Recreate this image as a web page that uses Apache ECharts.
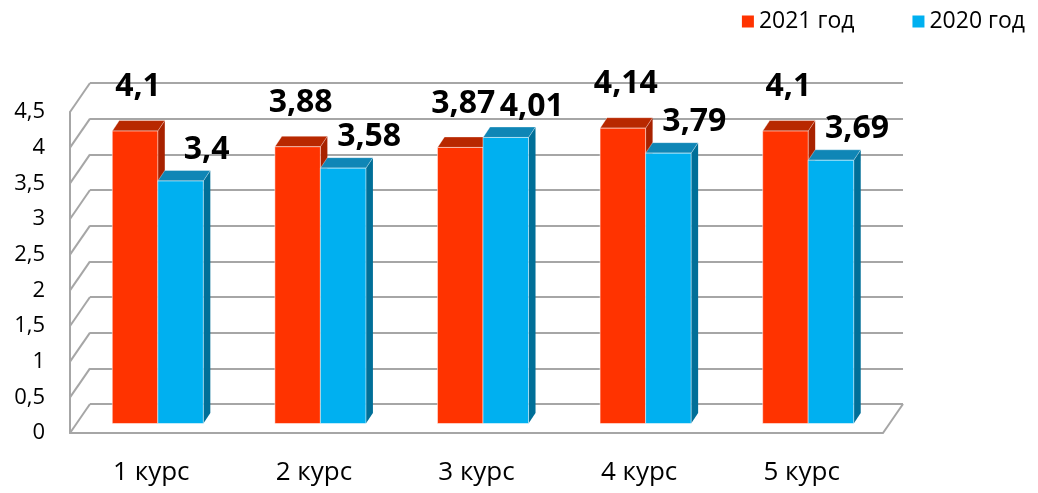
<!DOCTYPE html>
<html>
<head>
<meta charset="utf-8">
<script src="https://cdn.jsdelivr.net/npm/echarts@6/dist/echarts.min.js"></script>
<style>
html, body { margin: 0; padding: 0; background: #fff; }
#chart { width: 1038px; height: 493px; }
</style>
</head>
<body>
<div id="chart"></div>
<script>
var categories = ['1 курс', '2 курс', '3 курс', '4 курс', '5 курс']
var values2021 = [4.1, 3.88, 3.87, 4.14, 4.1]
var values2020 = [3.4, 3.58, 4.01, 3.79, 3.69]
var yTicks = [0, 0.5, 1, 1.5, 2, 2.5, 3, 3.5, 4, 4.5]
var seriesNames = ['2021 год', '2020 год']

// pseudo 3d settings (pixels)
var WALL = [20, 29]     // front plane -> back wall
var PLANE = [6.5, 9.5]  // front plane -> bar front faces
var DEPTH = [7, 10.5]   // bar thickness
var GRID_COLOR = '#a6a6a6'
var FONT = '"Open Sans", "Noto Sans", sans-serif'

function fmt (v) {
    return String(v).replace('.', ',')
}

function toData (arr) {
    return arr.map(function (v, i) { return [i, v] })
}

function barRender (side, faces, labelShift) {
    return function (params, api) {
        var cat = api.value(0)
        var v = api.value(1)
        var base = api.coord([cat, 0])
        var top = api.coord([cat, v])
        var w = api.size([1, 0])[0] * 0.28
        var x0 = base[0] + PLANE[0] + (side === 0 ? -w : 0)
        var x1 = x0 + w
        var yb = base[1] - PLANE[1]
        var yt = top[1] - PLANE[1]
        var dx = DEPTH[0]
        var dy = DEPTH[1]
        return {
            type: 'group',
            children: [
                {
                    type: 'polygon',
                    shape: { points: [[x1, yt], [x1 + dx, yt - dy], [x1 + dx, yb - dy], [x1, yb]] },
                    style: { fill: faces.side }
                },
                {
                    type: 'polygon',
                    shape: { points: [[x0, yt], [x1, yt], [x1 + dx, yt - dy], [x0 + dx, yt - dy]] },
                    style: { fill: faces.top, stroke: 'rgba(255,255,255,0.35)', lineWidth: 1 }
                },
                {
                    type: 'rect',
                    shape: { x: x0, y: yt, width: w, height: yb - yt },
                    style: { fill: faces.front, stroke: 'rgba(255,255,255,0.5)', lineWidth: 1 }
                },
                {
                    type: 'text',
                    x: (x0 + x1) / 2 + labelShift[0],
                    y: yt + labelShift[1],
                    z2: 20,
                    style: {
                        text: fmt(v),
                        font: 'bold 32px ' + FONT,
                        fill: '#000',
                        align: 'center',
                        verticalAlign: 'middle'
                    }
                }
            ]
        }
    }
}

function frameRender (params, api) {
    var v = api.value(1)
    var p = api.coord([0, v])
    var cs = params.coordSys
    var x = cs.x
    var lines = [{
        type: 'line',
        shape: { x1: x, y1: p[1], x2: x + WALL[0], y2: p[1] - WALL[1] },
        style: { stroke: GRID_COLOR, lineWidth: 2 }
    }]
    if (v === 0) {
        lines.push({
            type: 'line',
            shape: { x1: x + cs.width, y1: p[1], x2: x + cs.width + WALL[0], y2: p[1] - WALL[1] },
            style: { stroke: GRID_COLOR, lineWidth: 2 }
        })
    }
    return { type: 'group', children: lines }
}

var myChart = echarts.init(document.getElementById('chart'))
var option = {
    animation: false,
    legend: {
        data: seriesNames,
        right: 8,
        top: 5,
        icon: 'rect',
        itemWidth: 12,
        itemHeight: 12,
        itemGap: 58,
        textStyle: { fontSize: 23, color: '#000', fontFamily: FONT }
    },
    grid: [
        { left: 70, right: 155, top: 112, bottom: 60 },
        { left: 90, right: 135, top: 83, bottom: 89 }
    ],
    xAxis: [
        {
            type: 'category',
            gridIndex: 0,
            data: categories,
            axisTick: { show: false },
            axisLine: { lineStyle: { color: GRID_COLOR, width: 2 } },
            axisLabel: { fontSize: 26, color: '#000', margin: 27, fontFamily: FONT }
        },
        { type: 'category', gridIndex: 1, data: categories, show: false }
    ],
    yAxis: [
        {
            type: 'value',
            gridIndex: 0,
            min: 0,
            max: 4.5,
            interval: 0.5,
            axisLine: { show: true, lineStyle: { color: GRID_COLOR, width: 2 } },
            axisTick: { show: false },
            splitLine: { show: false },
            axisLabel: { fontSize: 22, color: '#000', margin: 25, fontFamily: FONT, formatter: fmt }
        },
        {
            type: 'value',
            gridIndex: 1,
            min: 0,
            max: 4.5,
            interval: 0.5,
            axisLine: { show: false },
            axisTick: { show: false },
            axisLabel: { show: false },
            splitLine: { show: true, lineStyle: { color: GRID_COLOR, width: 2 } }
        }
    ],
    series: [
        {
            type: 'custom',
            name: 'frame',
            xAxisIndex: 0,
            yAxisIndex: 0,
            silent: true,
            data: yTicks.map(function (t) { return [0, t] }),
            encode: { x: 0, y: 1 },
            renderItem: frameRender
        },
        {
            type: 'custom',
            name: seriesNames[0],
            xAxisIndex: 0,
            yAxisIndex: 0,
            itemStyle: { color: '#ff3300' },
            data: toData(values2021),
            encode: { x: 0, y: 1 },
            renderItem: barRender(0, { front: '#ff3300', top: '#b82800', side: '#a82200' }, [3, -44])
        },
        {
            type: 'custom',
            name: seriesNames[1],
            xAxisIndex: 0,
            yAxisIndex: 0,
            itemStyle: { color: '#00b0f0' },
            data: toData(values2020),
            encode: { x: 0, y: 1 },
            renderItem: barRender(1, { front: '#00b0f0', top: '#0f86b6', side: '#006f98' }, [26, -31])
        }
    ]
}
myChart.setOption(option)
</script>
</body>
</html>
